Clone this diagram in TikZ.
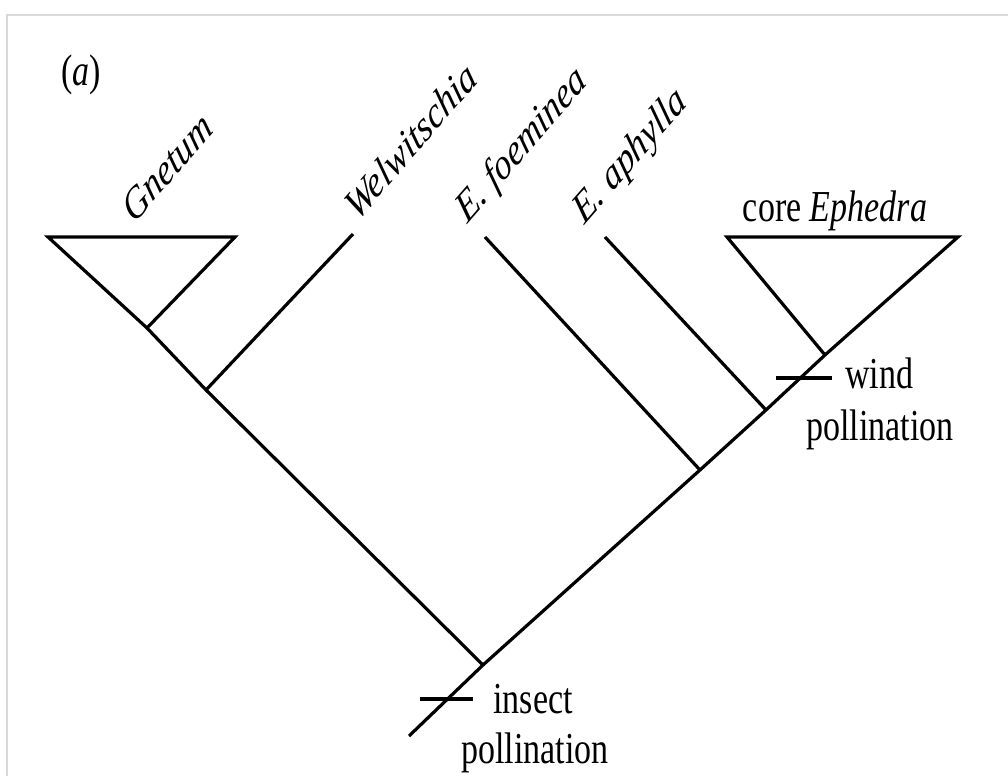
\documentclass[tikz,border=0pt]{standalone}
\usepackage{fontspec}
\setmainfont{Liberation Serif}
\begin{document}
\begin{tikzpicture}[x=0.5pt,y=-0.5pt,
  branch/.style={line width=1.6pt, line join=miter},
  tick/.style={line width=1.6pt},
  frame/.style={line width=1.2pt, draw=black!15},
  lbl/.style={inner sep=0pt, outer sep=0pt, font=\fontsize{17pt}{20pt}\selectfont, yscale=1.3},
  taxon/.style={lbl, font=\fontsize{17pt}{20pt}\selectfont\itshape, rotate=41.5, anchor=base west}]
\useasboundingbox (0,0) rectangle (1008,776);
\fill[white] (0,0) rectangle (1008,776);
% frame (top and left edges)
\draw[frame] (7,776) -- (7,15) -- (1008,15);
% coordinates of the tree
\coordinate (root) at (483,665);
\coordinate (stem) at (409,736);
\coordinate (gl) at (48,237);
\coordinate (gr) at (235,237);
\coordinate (gv) at (147,328);
\coordinate (wv) at (206,390);
\coordinate (wt) at (353,234);
\coordinate (fv) at (700,470);
\coordinate (ft) at (485,237);
\coordinate (av) at (766,410);
\coordinate (aphT) at (605,237);
\coordinate (el) at (727,237);
\coordinate (er) at (958,237);
\coordinate (ev) at (825,355);
\coordinate (it1) at (420,699);
\coordinate (it2) at (473,699);
\coordinate (wt1) at (776,378);
\coordinate (wt2) at (832,378);
% branches
\draw[branch] (stem) -- (root) -- (fv) -- (av) -- (ev) -- (er) -- (el) -- (ev);
\draw[branch] (root) -- (wv) -- (gv) -- (gl) -- (gr) -- (gv);
\draw[branch] (wv) -- (wt);
\draw[branch] (fv) -- (ft);
\draw[branch] (av) -- (aphT);
% character ticks
\draw[tick] (it1) -- (it2);
\draw[tick] (wt1) -- (wt2);
% labels
\node[lbl, anchor=center] (panel) at (81,75) {(\textit{a})};
\node[taxon] (gnetum) at (134,224) {Gnetum};
\node[taxon] (welw) at (357,222) {Welwitschia};
\node[taxon] (foem) at (467,224) {E. foeminea};
\node[taxon] (aphy) at (584,225) {E. aphylla};
\node[lbl, anchor=base] (core) at (835,221) {core \textit{Ephedra}};
\node[lbl, anchor=base] (wind1) at (879,388) {wind};
\node[lbl, anchor=base] (wind2) at (880,440) {pollination};
\node[lbl, anchor=base] (ins1) at (533,713) {insect};
\node[lbl, anchor=base] (ins2) at (535,763) {pollination};
\end{tikzpicture}
\end{document}
